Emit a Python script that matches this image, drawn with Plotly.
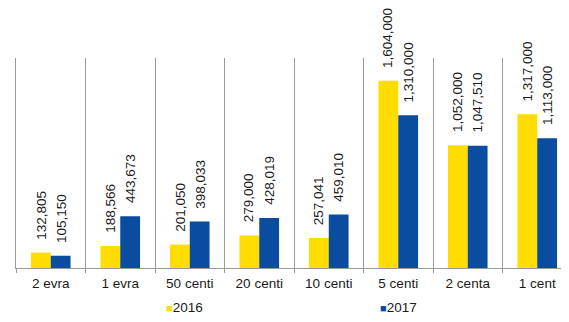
import plotly.graph_objects as go

categories = ["2 evra", "1 evra", "50 centi", "20 centi", "10 centi", "5 centi", "2 centa", "1 cent"]
values_2016 = [132805, 188566, 201050, 279000, 257041, 1604000, 1052000, 1317000]
values_2017 = [105150, 443673, 398033, 428019, 459010, 1310000, 1047510, 1113000]
series_names = ["2016", "2017"]

YELLOW = "#FFDD00"
BLUE = "#0A4DA0"
FONT = "Liberation Sans, Arial, sans-serif"
TXT = "#1a1a1a"
GRID = "#9a9a9a"
FS = 13.5

fig = go.Figure()
fig.add_trace(go.Bar(name=series_names[0], x=categories, y=values_2016, marker_color=YELLOW,
                     marker_line_width=0, showlegend=False))
fig.add_trace(go.Bar(name=series_names[1], x=categories, y=values_2017, marker_color=BLUE,
                     marker_line_width=0, showlegend=False))

annotations = []
for vals, shift in ((values_2016, -10), (values_2017, 10)):
    for c, v in zip(categories, vals):
        annotations.append(dict(x=c, y=v, xref="x", yref="y", text=f"{v:,}", showarrow=False,
                                textangle=-90, xanchor="center", yanchor="bottom",
                                xshift=shift, yshift=12, borderpad=0,
                                font=dict(family=FONT, size=FS, color=TXT)))

# legend drawn as annotations (colored square + name)
for name, color, lx in ((series_names[0], YELLOW, 0.2653), (series_names[1], BLUE, 0.651)):
    annotations.append(dict(xref="paper", yref="paper", x=lx, y=-0.19, xanchor="left",
                            yanchor="middle", showarrow=False,
                            text=f"<span style='color:{color};font-size:11px'>■</span>{name}",
                            font=dict(family=FONT, size=FS, color=TXT)))

# the page body has an 8px margin, so margins are offset to place the plot area
fig.update_layout(
    width=569, height=322,
    margin=dict(l=8, r=5, t=50, b=62, autoexpand=False),
    paper_bgcolor="white", plot_bgcolor="white",
    barmode="group", bargap=0.43, bargroupgap=0,
    font=dict(family=FONT, size=FS, color=TXT),
    showlegend=False,
    annotations=annotations,
    xaxis=dict(range=[-0.5, 7.5], tickson="boundaries", showgrid=True, gridcolor=GRID,
               gridwidth=1, showline=True, linecolor=GRID, linewidth=1,
               ticks="outside", ticklen=4, tickcolor=GRID, automargin=False,
               ticklabelstandoff=3,
               tickfont=dict(family=FONT, size=FS, color=TXT), zeroline=False),
    yaxis=dict(range=[0, 1800000], showgrid=False, showticklabels=False, zeroline=False,
               showline=True, linecolor=GRID, linewidth=1, ticks="", automargin=False),
)

fig.write_html("out.html")
